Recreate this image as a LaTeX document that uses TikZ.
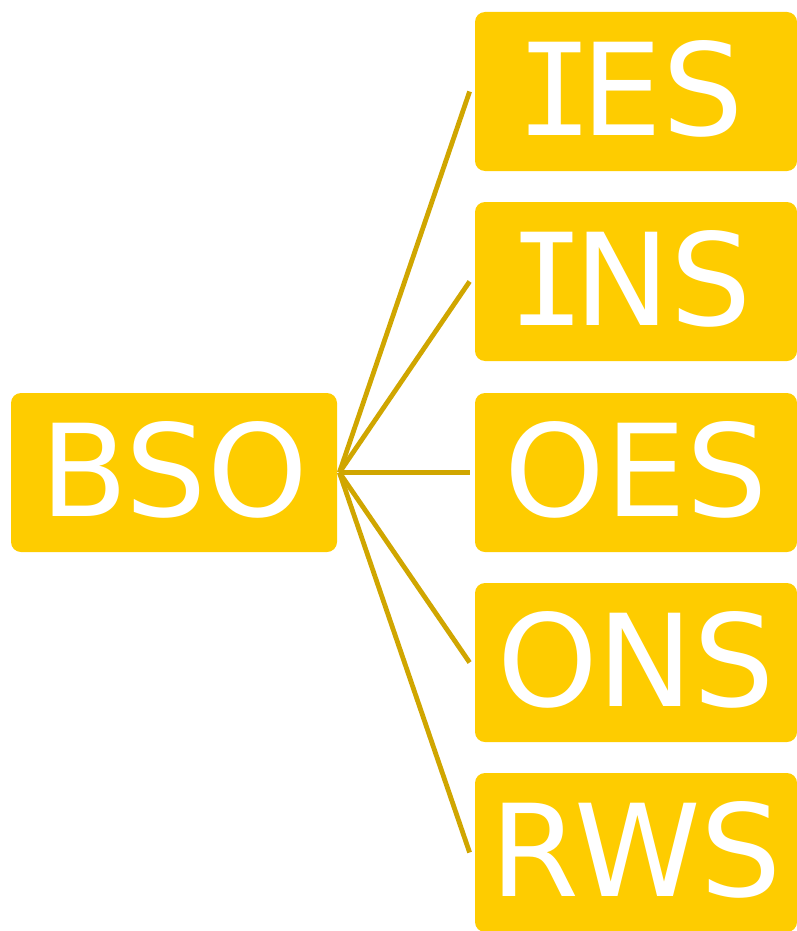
\documentclass[tikz,border=0pt]{standalone}
\usepackage{fontspec}
\setmainfont{DejaVu Sans}
\newfontfamily\monofont{DejaVu Sans Mono}
\usepackage{tikz}

\definecolor{boxgold}{RGB}{254,204,0}
\definecolor{linkgold}{RGB}{208,166,0}

% capital I with bars, kerned down to a sans width
\newcommand{\barI}{\hspace{-0.09em}{\monofont I}\hspace{-0.09em}}

\begin{document}
\begin{tikzpicture}[x=0.5pt,y=-0.5pt,
  unit/.style={fill=boxgold,text=white,rounded corners=5pt,inner sep=0pt,
    minimum height=79.5pt,text height=47pt,text depth=3.4pt,
    font=\fontsize{64}{64}\selectfont},
  link/.style={draw=linkgold,line width=2.4pt}]
\useasboundingbox (0,0) rectangle (797,931);
\node [unit,minimum width=163pt] (bso) at (174,472.5) {BSO};
\foreach \name/\txt/\y in {ies/\barI ES/91.5,ins/\barI NS/281.5,
  oes/OES/472.5,ons/ONS/662.5,rws/RWS/852.5}
{
  \node [unit,minimum width=161pt] (\name) at (636,\y) {\txt};
  \draw [link] ([xshift=1pt]bso.east) -- ([xshift=-2.5pt]\name.west);
}
\end{tikzpicture}
\end{document}
